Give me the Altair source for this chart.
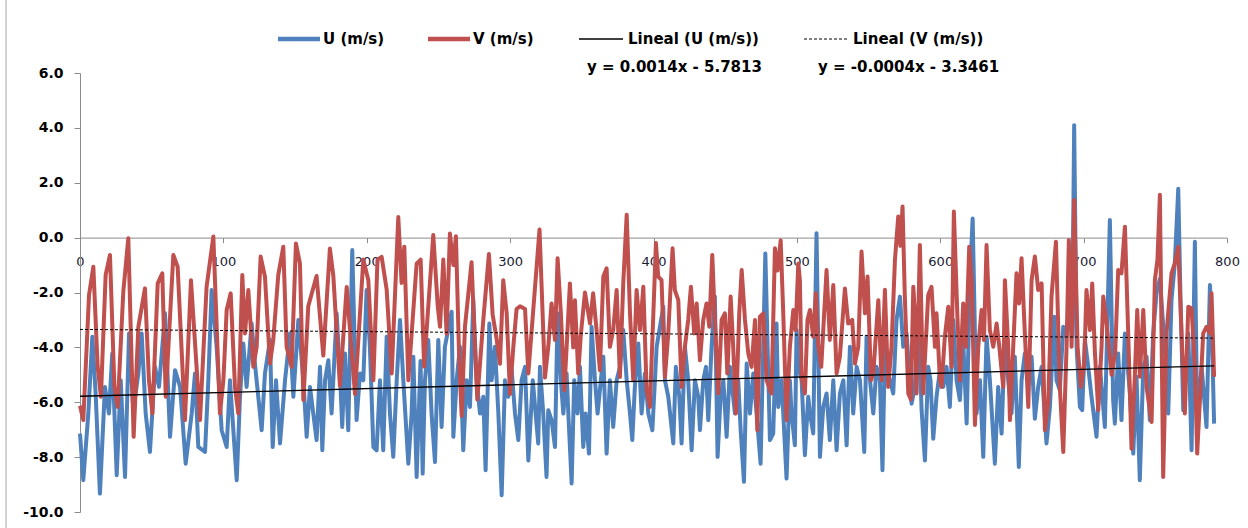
import altair as alt
import pandas as pd

# Wind components (m/s) sampled along the record index
U_SAMPLES = [
    (0, -7.14), (2.3, -8.84), (5.8, -6.41), (8.6, -3.61), (10.9, -5.68), (13.9, -9.33), (17.4, -5.44),
    (20.2, -6.41), (22.5, -4.22), (25.6, -8.66), (28.4, -5.2), (31.4, -8.72), (34.2, -3.49), (37.2, -6.29),
    (40.7, -4.95), (43, -3.49), (45.8, -6.41), (48.8, -7.81), (52.3, -4.71), (55.1, -5.44), (59.3, -2.76),
    (62.8, -7.26), (66.3, -4.83), (69.8, -5.44), (73.7, -8.24), (77.9, -6.41), (80.2, -4.95), (82.5, -7.63),
    (87.2, -7.81), (89.5, -5.2), (91.8, -1.91), (95.3, -3.98), (98.8, -7.02), (102.3, -7.63), (104.6, -5.2),
    (109.3, -8.84), (111.6, -5.8), (113.9, -3.86), (116.2, -5.44), (119.7, -3.13), (122, -4.59), (126.7, -7.02),
    (129, -4.95), (132.5, -3.73), (134.4, -7.63), (136.7, -5.2), (139.5, -7.5), (143, -5.2), (146.5, -3.49),
    (148.8, -5.8), (152.3, -3.0), (155.8, -5.2), (158.1, -7.26), (160.4, -5.44), (162.7, -6.41), (165, -7.38),
    (167.4, -4.71), (169, -7.75), (170.9, -5.2), (173.2, -4.47), (175.5, -6.41), (179, -2.76), (181.3, -4.95),
    (182.9, -6.9), (184.8, -4.22), (187.1, -7.02), (189.9, -0.45), (192.9, -6.65), (195.3, -4.95), (197.6, -5.2),
    (199.9, -1.91), (202.2, -3.98), (204.6, -7.63), (206.9, -7.75), (209.2, -5.2), (211.5, -7.75), (213.9, -3.61),
    (216.2, -6.41), (218.5, -7.99), (220.9, -5.2), (223.2, -3.0), (225.5, -5.2), (229, -8.24), (231.3, -6.41),
    (232.5, -4.34), (234.8, -8.72), (237.5, -4.5), (239, -8.6), (240.6, -5.2), (242.9, -3.73), (245.2, -6.41),
    (247.6, -8.18), (249.9, -3.73), (252.2, -6.9), (254.5, -3.98), (259.2, -2.7), (260.4, -7.26), (262.7, -5.2),
    (265, -3.98), (267.3, -7.75), (269.7, -5.2), (272, -6.17), (274.3, -2.28), (276.6, -5.2), (279, -6.41),
    (281.3, -5.8), (282.9, -8.48), (285.5, -3.13), (287.1, -5.2), (289.4, -3.98), (291.8, -6.41), (294.1, -9.39),
    (296.4, -5.2), (298.7, -5.8), (301.1, -4.83), (303.4, -6.41), (305.7, -7.38), (308, -5.2), (310.4, -4.71),
    (312.7, -8.12), (315.8, -5.2), (319.6, -7.5), (320.8, -4.71), (323.1, -6.41), (325.4, -8.72), (326.6, -6.29),
    (328.9, -6.65), (331.3, -7.63), (333.1, -2.76), (335.4, -5.2), (337.1, -6.41), (339.4, -4.95), (340.6, -6.41),
    (342.9, -8.96), (344.7, -5.2), (347, -6.41), (348.7, -4.71), (351, -7.63), (352.6, -6.41), (355, -7.87),
    (356.8, -3.25), (359.2, -5.2), (361, -6.41), (363.3, -5.2), (365, -4.34), (367.3, -7.87), (369.6, -5.2),
    (371.9, -6.9), (374.3, -5.2), (376.6, -4.71), (378.9, -3.37), (381.3, -5.2), (383.6, -6.41), (385.2, -7.38),
    (387, -5.44), (389.4, -3.86), (391.7, -6.41), (394, -4.95), (396.4, -6.41), (399.2, -7.02), (402.2, -3.98),
    (406.8, -2.52), (408, -5.2), (410.3, -5.8), (413.8, -7.5), (415.6, -4.71), (418, -5.8), (419.6, -7.5),
    (421.9, -3.98), (424.2, -5.2), (426.6, -7.75), (428.9, -5.2), (431.2, -5.8), (432.4, -7.02), (434.7, -5.2),
    (436.6, -4.71), (438.2, -6.65), (440.5, -3.98), (442.8, -2.15), (444.7, -7.99), (446.8, -5.8), (448.7, -5.2),
    (451, -7.26), (453.3, -4.71), (456.8, -6.41), (459.1, -5.2), (460.8, -7.02), (463.1, -8.9), (465, -4.59),
    (467.3, -6.41), (469.6, -4.95), (471.9, -6.41), (474.7, -8.24), (478, -0.58), (481.2, -7.38), (483.5, -7.14),
    (485.8, -3.13), (487, -6.17), (489.3, -5.2), (490.5, -6.41), (492.8, -8.78), (495.1, -5.2), (496.3, -6.41),
    (498.6, -7.57), (499.8, -3.37), (501, -4.71), (503.3, -5.2), (505.6, -7.93), (507.9, -5.8), (509.1, -6.41),
    (511.4, -7.14), (513.7, 0.16), (516.1, -7.99), (518.4, -6.17), (520.7, -5.68), (523, -7.38), (525.4, -5.2),
    (527.7, -7.75), (530, -5.68), (532.4, -5.2), (534.7, -7.57), (537, -3.98), (539.3, -6.41), (541.7, -4.71),
    (544, -5.2), (547, -7.81), (548.6, -3.61), (551, -5.2), (553.3, -6.41), (555.6, -4.71), (557.9, -5.2),
    (559.7, -8.48), (561.4, -3.98), (562.6, -4.59), (564.9, -5.2), (567.2, -5.68), (569.5, -3.0), (571.9, -2.15),
    (574.2, -3.98), (576.5, -3.49), (578.8, -5.2), (580, -6.05), (582.3, -5.44), (584.6, -2.52), (587, -6.29),
    (589.3, -8.12), (591.6, -4.71), (593.2, -5.2), (595.1, -7.33), (597.4, -5.8), (599.8, -4.83), (602.1, -5.44),
    (604.4, -4.71), (606.7, -6.17), (609.1, -3.0), (611.4, -5.2), (613.7, -5.92), (616, -3.73), (618.4, -6.77),
    (620.7, -1.55), (622.6, 0.7), (625.3, -6.41), (627.7, -5.2), (630, -7.99), (632.3, -3.61), (634.6, -5.2),
    (638.1, -8.24), (640.4, -5.44), (642.8, -7.14), (645.1, -3.49), (647.4, -5.2), (649.7, -6.41), (652, -4.34),
    (654.8, -8.36), (656.7, -5.2), (659, -4.22), (661.4, -5.2), (663.7, -4.34), (666, -6.6), (668.3, -5.44),
    (670.7, -4.71), (674.1, -7.5), (676.5, -6.17), (679.5, -2.88), (681.1, -5.2), (683.4, -5.56), (685.8, -3.25),
    (688.1, -3.61), (690.4, -2.64), (692, -3.61), (693.4, 4.1), (695.1, -3.98), (697.4, -6.17), (699, -6.29),
    (700.9, -3.73), (703.2, -4.71), (705.5, -5.8), (709, -7.26), (711.4, -4.71), (712.5, -5.44), (714.8, -6.9),
    (718.3, 0.64), (720.6, -5.93), (721.8, -6.78), (724.1, -4.22), (726.4, -6.65), (728.8, -3.49), (732.3, -5.68),
    (734.6, -7.87), (736.9, -5.07), (739.2, -8.84), (741.6, -4.71), (743.9, -4.34), (746.2, -6.65), (748.5, -3.5),
    (750.9, -2.0), (753.2, -1.5), (756.7, -4.1), (759, -6.41), (761.3, -2.28), (763.6, -0.94), (766, 1.78),
    (767.6, -2.28), (769.5, -6.29), (773, -3.49), (775.3, -7.75), (777.6, -0.15), (779.2, -6.65), (782.3, -4.71),
    (785.7, -6.9), (788.1, -1.73), (789.2, -2.88), (791, -6.78),
]

V_SAMPLES = [
    (0, -6.13), (2.3, -6.65), (6.3, -2.09), (9.3, -1.06), (12.3, -4.7), (14.6, -5.8), (17.9, -1.36),
    (20.9, -0.63), (24, -5.44), (26.3, -6.17), (30.2, -1.97), (33.7, -0.02), (37.4, -7.26), (40.7, -3.25),
    (45.3, -1.85), (48.1, -5.2), (50.5, -6.41), (54.2, -1.67), (57.4, -1.3), (59.8, -5.8), (65.1, -0.63),
    (68.1, -1.06), (73.2, -6.65), (77.4, -1.55), (83.7, -6.65), (88.3, -1.79), (93, 0.04), (97.6, -6.41),
    (100, -5.2), (102.3, -2.64), (105.1, -2.03), (108.1, -5.44), (110.4, -6.41), (113.2, -1.36), (115.1, -3.49),
    (117.4, -1.91), (120.9, -4.71), (123.2, -3.98), (126, -0.69), (129, -1.42), (132.5, -4.59), (134.8, -3.73),
    (138.3, -1.36), (141.8, -0.33), (144.1, -3.98), (147.6, -4.71), (150.6, -0.21), (153.4, -0.94), (155.8, -5.92),
    (159.2, -2.5), (165, -1.4), (169.7, -4.3), (174.3, -0.4), (176.7, -1.4), (181.3, -5.4), (186, -1.8),
    (191.8, -5.7), (197.6, -0.8), (201.1, -1.55), (204.6, -5.2), (207.5, -0.8), (210.4, -0.7), (213.9, -1.9),
    (217.4, -4.95), (222, 0.75), (224.3, -1.65), (226.2, -0.33), (229, -5.2), (234.8, -0.95), (237.6, -0.8),
    (240, -4.7), (246.4, 0.1), (249.5, -2.5), (251.1, -3.25), (253.4, -0.8), (255.7, -3.5), (258, 0.15),
    (260.4, -1.0), (262.2, 0.05), (264.5, -4.5), (266.2, -6.5), (268.5, -3.25), (273.1, -0.9), (275.5, -4.0),
    (277.1, -5.9), (281.3, -3.0), (285.2, -0.6), (287.8, -2.8), (290.6, -3.7), (292.9, -4.6), (295.2, -1.55),
    (297.6, -2.76), (299.9, -5.7), (302.2, -4.0), (304.5, -2.6), (306.9, -2.5), (310.4, -2.6), (312.7, -4.95),
    (315, -3.4), (320.5, 0.3), (324.3, -5.1), (326.6, -3.98), (328.9, -2.4), (331.3, -3.73), (333.1, -0.75),
    (335.4, -2.76), (337.8, -5.56), (339.4, -4.0), (341.7, -1.67), (344, -4.0), (345.2, -2.28), (347.5, -4.95),
    (349.4, -3.49), (352.2, -2.0), (355.7, -3.13), (357.9, -2.03), (360.3, -3.37), (362.6, -4.83), (365, -1.42),
    (367.3, -1.12), (369.6, -3.98), (371.9, -3.37), (374.3, -1.91), (376.6, -5.08), (378.9, -1.67), (381.3, 0.83),
    (383.6, -2.76), (385.9, -5.2), (388.2, -1.91), (390.6, -3.37), (392.9, -1.79), (395.2, -5.56), (397.5, -6.17),
    (401.7, -0.2), (403.3, -1.42), (405.6, -1.55), (408, -5.08), (410.3, -3.49), (413.3, -0.39), (414.9, -1.91),
    (417.3, -2.28), (419.6, -5.44), (421.9, -3.98), (424.2, -3.0), (426.1, -1.79), (428.4, -3.49), (430.1, -2.4),
    (432.4, -4.47), (434.7, -3.0), (437, -2.4), (438.9, -3.25), (441, -0.63), (442.8, -3.0), (445.2, -5.68),
    (447.5, -3.0), (449.8, -2.76), (451.5, -4.95), (453.8, -2.15), (455.6, -3.98), (457.5, -6.41), (459.8, -2.76),
    (461.5, -1.18), (463.8, -3.0), (466.1, -4.22), (468.4, -4.71), (470.8, -3.0), (472.4, -7.02), (474.2, -2.88),
    (476.6, -2.76), (478.9, -5.2), (482.3, -5.68), (484.7, -0.39), (486.5, -1.2), (488.7, -0.1), (490.5, -2.76),
    (492.8, -6.65), (495.1, -4.0), (497.5, -2.64), (499.1, -3.37), (501, -0.94), (502.1, -1.55), (503.3, -5.08),
    (505.6, -5.68), (507.4, -3.0), (509.1, -2.64), (511.4, -3.61), (513.2, -2.03), (514.7, -3.86), (517, -4.71),
    (520.7, -1.18), (523, -3.73), (525.4, -1.73), (527.7, -4.95), (530, -4.34), (533.5, -1.85), (535.8, -3.13),
    (538.6, -3.0), (540.5, -4.59), (542.8, -3.98), (545.1, -0.51), (547.5, -2.76), (549.3, -1.42), (551.7, -5.2),
    (553.3, -4.95), (556.8, -2.28), (559.1, -5.2), (561.4, -1.9), (563.7, -5.44), (566, -3.98), (568.4, -0.82),
    (570.7, 0.77), (572.2, -0.3), (573.7, 1.13), (575.3, -2.15), (577.7, -5.68), (579.5, -5.9), (581.2, -1.79),
    (582.3, -2.76), (583.5, -5.68), (585.8, -0.27), (588.1, -5.68), (591.6, -2.09), (593.9, -1.79), (596.3, -3.98),
    (597.4, -2.76), (599.8, -5.2), (600.9, -5.44), (603.2, -3.61), (605.6, -2.52), (607.9, -4.71), (609.5, 0.95),
    (611.9, -2.76), (613.7, -5.2), (616, -2.4), (617.9, -3.98), (620.2, -0.33), (621.9, -1.55), (624.2, -6.83),
    (626.5, -3.98), (628.8, -2.64), (630.5, -3.73), (632.3, -0.27), (634.6, -3.37), (637, -3.98), (639.3, -3.13),
    (641.2, -3.98), (643.9, -5.44), (645.1, -1.55), (647.4, -3.98), (648.6, -6.65), (650.9, -3.98), (653.2, -1.3),
    (655, -2.4), (656.7, -0.75), (659, -3.49), (661.4, -6.17), (663.7, -1.55), (666, -0.69), (668.3, -1.91),
    (670.7, -1.67), (673, -7.02), (675.3, -6.0), (677.6, -2.15), (680.7, -0.15), (683.4, -5.44), (685.8, -7.81),
    (688.1, -3.98), (689.7, -0.09), (691.6, -3.98), (693.4, 1.37), (695.8, -3.98), (698.1, -5.44), (700.4, -4.59),
    (702, -1.91), (704.4, -3.37), (706, -1.67), (707.9, -4.22), (710.2, -6.29), (712.5, -3.98), (713.7, -2.15),
    (716, -3.13), (719.5, -5.0), (722, -4.2), (724.1, -1.18), (726.4, -1.3), (728.8, 0.4), (731.1, -3.49),
    (733.4, -7.69), (735.7, -5.07), (737.4, -2.64), (739.2, -5.07), (741.6, -2.64), (743.9, -5.44), (747.4, -6.72),
    (749.7, -1.55), (751.5, -0.8), (753.2, 1.56), (755.5, -8.72), (757.8, -3.49), (761.3, -1.3), (763.6, -0.94),
    (766, -0.33), (768.3, -3.49), (770.6, -6.41), (773, -2.52), (775.3, -2.58), (777.6, -4.71), (779.2, -7.87),
    (781.1, -5.92), (783.4, -3.49), (785.7, -3.25), (788.1, -3.49), (789.2, -2.03), (791, -5.07),
]

# Linear trendlines as printed on the chart: y = slope * x + intercept
U_TREND = (0.0014, -5.7813)
V_TREND = (-0.0004, -3.3461)
TREND_SPAN = [0, 791]

X_TICKS = [0, 100, 200, 300, 400, 500, 600, 700, 800]
Y_TICKS = [-10, -8, -6, -4, -2, 0, 2, 4, 6]

U_COLOR = "#4F81BD"
V_COLOR = "#C0504D"
AXIS_GRAY = "#8c8c8c"

u_df = pd.DataFrame(U_SAMPLES, columns=["t", "ms"])
v_df = pd.DataFrame(V_SAMPLES, columns=["t", "ms"])
trend_df = pd.DataFrame({
    "t": TREND_SPAN,
    "u_fit": [U_TREND[0] * t + U_TREND[1] for t in TREND_SPAN],
    "v_fit": [V_TREND[0] * t + V_TREND[1] for t in TREND_SPAN],
})

W, H = 1147, 439
x_scale = alt.Scale(domain=[0, 800], nice=False, zero=False)
y_scale = alt.Scale(domain=[-10, 6], nice=False, zero=False)

# the category axis crosses the value axis at y = 0
zero_offset = -(H * (0 - (-10)) / 16.0)

x_axis = alt.Axis(
    values=X_TICKS, format="d", title=None, grid=False,
    offset=zero_offset, domainColor=AXIS_GRAY, tickColor=AXIS_GRAY, tickSize=5,
    labelFont="DejaVu Sans", labelFontSize=13, labelColor="#1a1a33", labelPadding=13,
    labelFlush=False, labelOverlap=False,
)
y_axis = alt.Axis(
    values=Y_TICKS, title=None, grid=False,
    labelExpr="datum.value < 0 ? '-' + format(-datum.value, '.1f') : format(datum.value, '.1f')",
    domainColor=AXIS_GRAY, tickColor=AXIS_GRAY, tickSize=6,
    labelFont="DejaVu Sans", labelFontSize=14, labelFontWeight="bold", labelColor="#000000",
    labelPadding=11, labelFlush=False, labelOverlap=False,
)

u_line = alt.Chart(u_df).mark_line(color=U_COLOR, strokeWidth=4, strokeJoin="round").encode(
    x=alt.X("t:Q", scale=x_scale, axis=x_axis),
    y=alt.Y("ms:Q", scale=y_scale, axis=y_axis),
)
v_line = alt.Chart(v_df).mark_line(color=V_COLOR, strokeWidth=4, strokeJoin="round").encode(
    x=alt.X("t:Q", scale=x_scale),
    y=alt.Y("ms:Q", scale=y_scale),
)
u_fit = alt.Chart(trend_df).mark_line(color="#000000", strokeWidth=1.3).encode(
    x=alt.X("t:Q", scale=x_scale),
    y=alt.Y("u_fit:Q", scale=y_scale),
)
v_fit = alt.Chart(trend_df).mark_line(color="#000000", strokeWidth=1, strokeDash=[3, 2]).encode(
    x=alt.X("t:Q", scale=x_scale),
    y=alt.Y("v_fit:Q", scale=y_scale),
)

one = pd.DataFrame({"k": [0]})
LEGEND_FONT = "DejaVu Sans"


def swatch(x0, x1, y, color, width, dash=None):
    kw = dict(color=color, strokeWidth=width)
    if dash:
        kw["strokeDash"] = dash
    return alt.Chart(one).mark_rule(**kw).encode(
        x=alt.value(x0), x2=alt.value(x1), y=alt.value(y)
    )


def label(x, y, txt, size=15):
    return alt.Chart(one).mark_text(
        align="left", baseline="middle", font=LEGEND_FONT, fontSize=size,
        fontWeight="bold", color="#000000",
    ).encode(x=alt.value(x), y=alt.value(y), text=alt.value(txt))


legend = [
    swatch(198, 240, -34, U_COLOR, 4.5), label(243, -34, "U  (m/s)"),
    swatch(348, 390, -34, V_COLOR, 4.5), label(393, -34, "V  (m/s)"),
    swatch(499, 543, -34, "#000000", 1.3), label(548, -34, "Lineal (U  (m/s))"),
    swatch(724, 768, -34, "#000000", 1, [3, 2]), label(773, -34, "Lineal (V  (m/s))"),
    label(507, -6, "y = 0.0014x  - 5.7813"),
    label(738, -6, "y = -0.0004x  - 3.3461"),
]

# outer chart-area border on the left edge
frame = alt.Chart(one).mark_rule(color="#a6a6a6", strokeWidth=1).encode(
    x=alt.value(-74), y=alt.value(-73), y2=alt.value(H + 16)
)

chart = alt.layer(u_line, v_line, u_fit, v_fit, frame, *legend).properties(
    width=W, height=H,
    padding={"left": 80, "top": 73, "right": 21, "bottom": 16},
    autosize=alt.AutoSizeParams(type="none"),
    background="#ffffff",
).configure_view(stroke=None)

chart.save("out.html", embed_options={"renderer": "svg", "actions": False})
